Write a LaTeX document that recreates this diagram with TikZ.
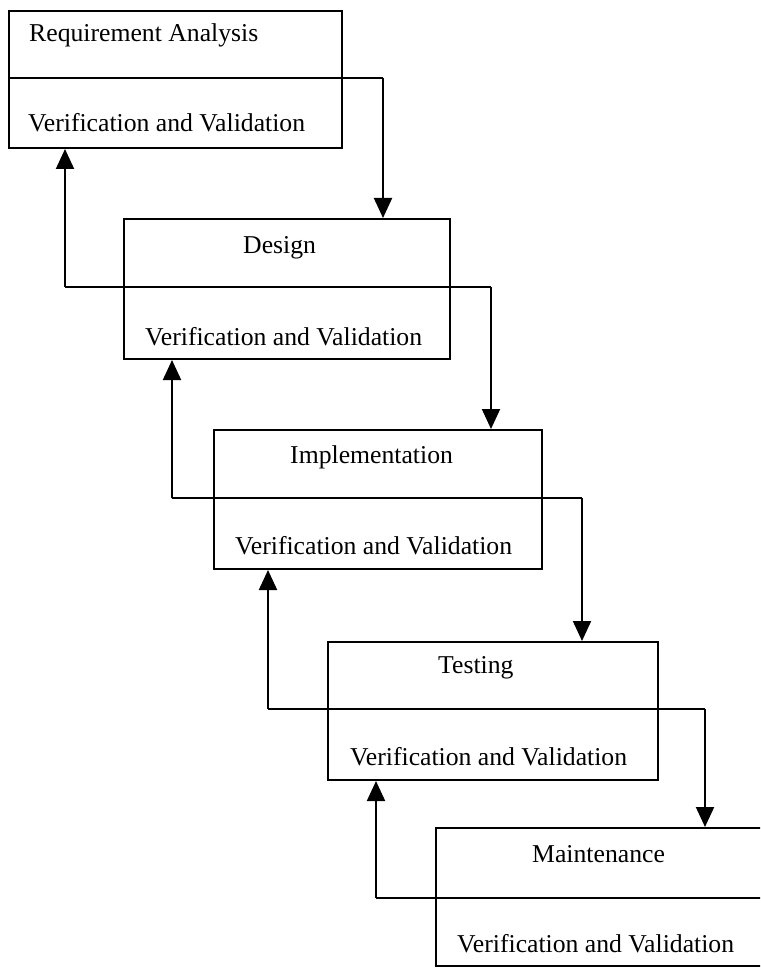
\documentclass[tikz,border=0pt]{standalone}
\usepackage{fontspec}
\setmainfont{Liberation Serif}
\usetikzlibrary{arrows.meta}
\begin{document}
\begin{tikzpicture}[x=1pt,y=-1pt,
  box/.style={draw, line width=2pt, inner sep=0pt, anchor=north west},
  lbl/.style={anchor=base west, inner sep=0pt, font=\fontsize{25.7}{30}\selectfont},
  conn/.style={line width=2pt},
  arr/.style={line width=2pt, -{Triangle[length=20pt,width=18pt]}}]
\useasboundingbox (0,0) rectangle (760,968);
\begin{scope}
\clip (0,0) rectangle (760,968);
% boxes
\node[box, minimum width=333pt, minimum height=137pt] (b1) at (8,10) {};
\node[box, minimum width=326pt, minimum height=140pt] (b2) at (123,218) {};
\node[box, minimum width=328pt, minimum height=139pt] (b3) at (213,429) {};
\node[box, minimum width=330pt, minimum height=138pt] (b4) at (327,641) {};
\node[box, minimum width=330pt, minimum height=138pt] (b5) at (435,827) {};
% elbow coordinates
\coordinate (r1) at (383,78);
\coordinate (l2) at (65,287);  \coordinate (r2) at (491,287);
\coordinate (l3) at (172,498); \coordinate (r3) at (582,498);
\coordinate (l4) at (268,709); \coordinate (r4) at (705,709);
\coordinate (l5) at (376,898);
% dividers and connectors
\draw[conn] (b1.west |- r1) -- (r1);
\draw[arr] (r1) -- (b2.north west -| r1);
\draw[conn] (l2) -- (r2);
\draw[arr] (r2) -- (b3.north west -| r2);
\draw[arr] (l2) -- (b1.south west -| l2);
\draw[conn] (l3) -- (r3);
\draw[arr] (r3) -- (b4.north west -| r3);
\draw[arr] (l3) -- (b2.south west -| l3);
\draw[conn] (l4) -- (r4);
\draw[arr] (r4) -- (b5.north west -| r4);
\draw[arr] (l4) -- (b3.south west -| l4);
\draw[conn] (l5) -- (b5.east |- l5);
\draw[arr] (l5) -- (b4.south west -| l5);
% labels
\node[lbl] (t1) at (29,42) {Requirement Analysis};
\node[lbl] (v1) at (28,132) {Verification and Validation};
\node[lbl] (t2) at (243,253) {Design};
\node[lbl] (v2) at (145,345) {Verification and Validation};
\node[lbl] (t3) at (290,463) {Implementation};
\node[lbl] (v3) at (235,554) {Verification and Validation};
\node[lbl] (t4) at (438,673) {Testing};
\node[lbl] (v4) at (350,765) {Verification and Validation};
\node[lbl] (t5) at (532,862) {Maintenance};
\node[lbl] (v5) at (457,952) {Verification and Validation};
\end{scope}
\end{tikzpicture}
\end{document}
